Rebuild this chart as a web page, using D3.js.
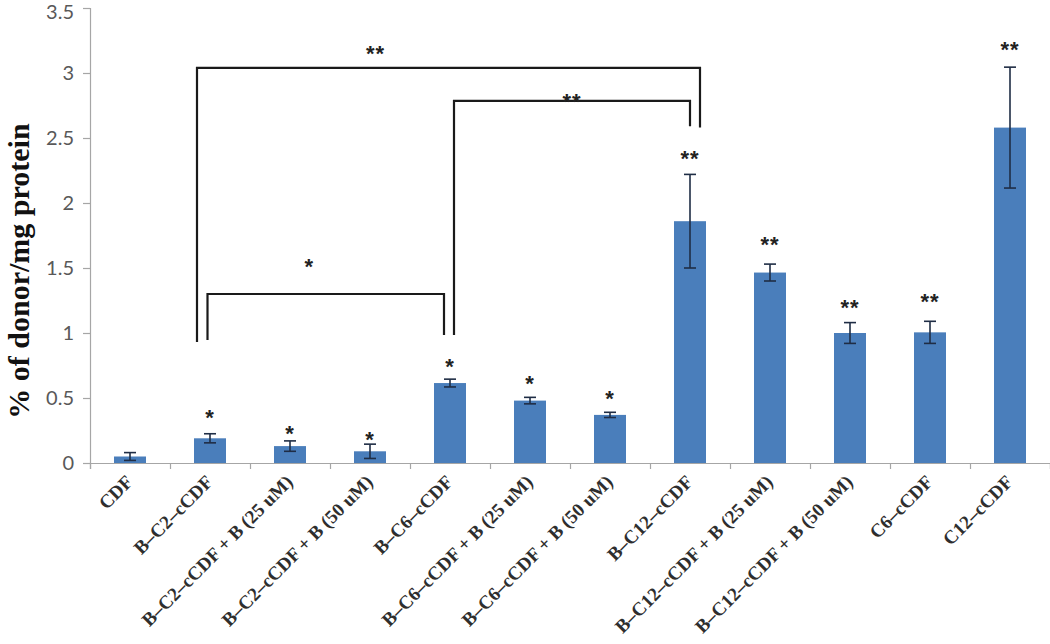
<!DOCTYPE html>
<html>
<head>
<meta charset="utf-8">
<script src="https://cdn.jsdelivr.net/npm/d3@7/dist/d3.min.js"></script>
<style>
  html, body { margin: 0; padding: 0; background: #fff; }
  svg { display: block; }
</style>
</head>
<body>
<svg id="chart" width="1050" height="644"></svg>
<script>
// ---------------- data ----------------
const categories = [
  "CDF",
  "B–C2–cCDF",
  "B–C2–cCDF + B (25 uM)",
  "B–C2–cCDF + B (50 uM)",
  "B–C6–cCDF",
  "B–C6–cCDF + B (25 uM)",
  "B–C6–cCDF + B (50 uM)",
  "B–C12–cCDF",
  "B–C12–cCDF + B (25 uM)",
  "B–C12–cCDF + B (50 uM)",
  "C6–cCDF",
  "C12–cCDF"
];
const values = [0.05, 0.19, 0.13, 0.09, 0.615, 0.48, 0.37, 1.86, 1.465, 1.0, 1.005, 2.58];
const errors = [0.03, 0.035, 0.04, 0.055, 0.03, 0.025, 0.02, 0.36, 0.065, 0.08, 0.085, 0.465];
const starLabels = ["", "*", "*", "*", "*", "*", "*", "**", "**", "**", "**", "**"];
const starLevels = [null, 0.385, 0.26, 0.22, 0.78, 0.65, 0.53, 2.38, 1.72, 1.23, 1.28, 3.22];
const yTicks = [0, 0.5, 1, 1.5, 2, 2.5, 3, 3.5];

// significance brackets
const bracketFrom = ["B–C2–cCDF", "B–C6–cCDF", "B–C2–cCDF"];
const bracketTo = ["B–C12–cCDF", "B–C12–cCDF", "B–C6–cCDF"];
const bracketTop = [3.04, 2.785, 1.3];
const bracketLeftEnd = [0.93, 0.985, 0.946];
const bracketRightEnd = [2.58, 2.59, 0.985];
const bracketLabels = ["**", "**", "*"];
const bracketLabelLevels = [3.185, 2.82, 1.546];

// ---------------- drawing ----------------
(function () {
const svg = d3.select("#chart");
const pLeft = 90, pRight = 1050, pTop = 8, pBottom = 463;

const x = d3.scaleBand().domain(categories).range([pLeft, pRight])
  .paddingInner(0.6).paddingOuter(0.3);
const y = d3.scaleLinear().domain([0, 3.5]).range([pBottom, pTop]);
const bw = x.bandwidth();
const cx = c => x(c) + bw / 2;

const axisColor = "#a6a6a6";

// bars
svg.append("g").selectAll("rect").data(categories).join("rect")
  .attr("x", d => x(d))
  .attr("width", bw)
  .attr("y", (d, i) => y(values[i]))
  .attr("height", (d, i) => y(0) - y(values[i]))
  .attr("fill", "#4a7ebb");

// error bars
const eb = svg.append("g").attr("stroke", "#1f2d45").attr("stroke-width", 1.6);
categories.forEach((c, i) => {
  const xc = cx(c);
  const y1 = y(values[i] + errors[i]), y2 = y(values[i] - errors[i]);
  eb.append("line").attr("x1", xc).attr("x2", xc).attr("y1", y1).attr("y2", y2);
  eb.append("line").attr("x1", xc - 6).attr("x2", xc + 6).attr("y1", y1).attr("y2", y1);
  eb.append("line").attr("x1", xc - 6).attr("x2", xc + 6).attr("y1", y2).attr("y2", y2);
});

// y axis
const yAxis = svg.append("g").attr("transform", `translate(${pLeft},0)`)
  .call(d3.axisLeft(y).tickValues(yTicks).tickSize(7).tickPadding(9).tickFormat(d3.format("")));
yAxis.select(".domain").attr("stroke", axisColor).attr("stroke-width", 1.2);
yAxis.selectAll(".tick line").attr("stroke", axisColor).attr("stroke-width", 1.2);
yAxis.selectAll(".tick text")
  .attr("font-family", "Lato, 'Open Sans', sans-serif")
  .attr("font-size", 20).attr("fill", "#595959")
  .attr("dy", d => d === 3.5 ? "0.5em" : "0.32em");

// x axis: boundary ticks
const xb = d3.scaleLinear().domain([0, categories.length]).range([pLeft, pRight]);
const xTicksAxis = svg.append("g").attr("transform", `translate(0,${pBottom})`)
  .call(d3.axisBottom(xb).ticks(categories.length).tickSize(6).tickFormat(""));
xTicksAxis.select(".domain").attr("stroke", axisColor).attr("stroke-width", 1.2);
xTicksAxis.selectAll(".tick line").attr("stroke", axisColor).attr("stroke-width", 1.2);

// x axis labels
const xAxis = svg.append("g").attr("transform", `translate(0,${pBottom})`)
  .call(d3.axisBottom(x).tickSize(0));
xAxis.select(".domain").remove();
xAxis.selectAll(".tick text")
  .attr("y", null).attr("dy", null)
  .attr("transform", "translate(4,20) rotate(-45)")
  .attr("text-anchor", "end")
  .attr("font-family", "'Liberation Serif', 'Times New Roman', serif")
  .attr("font-weight", "bold")
  .attr("font-size", 19)
  .attr("fill", "#2e2e2e");

// stars above bars
const starFont = 22;
svg.append("g").selectAll("text").data(categories.filter((c, i) => starLabels[i])).join("text")
  .attr("x", d => cx(d))
  .attr("y", d => y(starLevels[categories.indexOf(d)]) + starFont * 0.55)
  .attr("text-anchor", "middle")
  .attr("font-family", "'Liberation Sans', Arial, sans-serif")
  .attr("font-weight", "bold")
  .attr("font-size", starFont)
  .attr("letter-spacing", 1)
  .attr("fill", "#222")
  .text(d => starLabels[categories.indexOf(d)]);

// brackets
const leftOffsets = [-13, 4, -2.5];
const rightOffsets = [10, 0, -6];
const labelFrac = [0.355, 0.5, 0.43];
const br = svg.append("g");
bracketFrom.forEach((f, i) => {
  const xl = cx(f) + leftOffsets[i];
  const xr = cx(bracketTo[i]) + rightOffsets[i];
  const path = d3.path();
  path.moveTo(xl, y(bracketLeftEnd[i]));
  path.lineTo(xl, y(bracketTop[i]));
  path.lineTo(xr, y(bracketTop[i]));
  path.lineTo(xr, y(bracketRightEnd[i]));
  br.append("path").attr("d", path.toString())
    .attr("fill", "none").attr("stroke", "#1a1a1a").attr("stroke-width", 2.2);
  br.append("text")
    .attr("x", xl + (xr - xl) * labelFrac[i])
    .attr("y", y(bracketLabelLevels[i]) + starFont * 0.55)
    .attr("text-anchor", "middle")
    .attr("font-family", "'Liberation Sans', Arial, sans-serif")
    .attr("font-weight", "bold")
    .attr("font-size", starFont)
    .attr("letter-spacing", 1)
    .attr("fill", "#222")
    .text(bracketLabels[i]);
});

// y axis title
svg.append("text")
  .attr("transform", `translate(29,${(117 + 425) / 2}) rotate(-90)`)
  .attr("text-anchor", "middle")
  .attr("font-family", "'Liberation Serif', 'Times New Roman', serif")
  .attr("font-weight", "bold")
  .attr("font-size", 30)
  .attr("fill", "#111")
  .text("% of donor/mg protein");
})();
</script>
</body>
</html>
